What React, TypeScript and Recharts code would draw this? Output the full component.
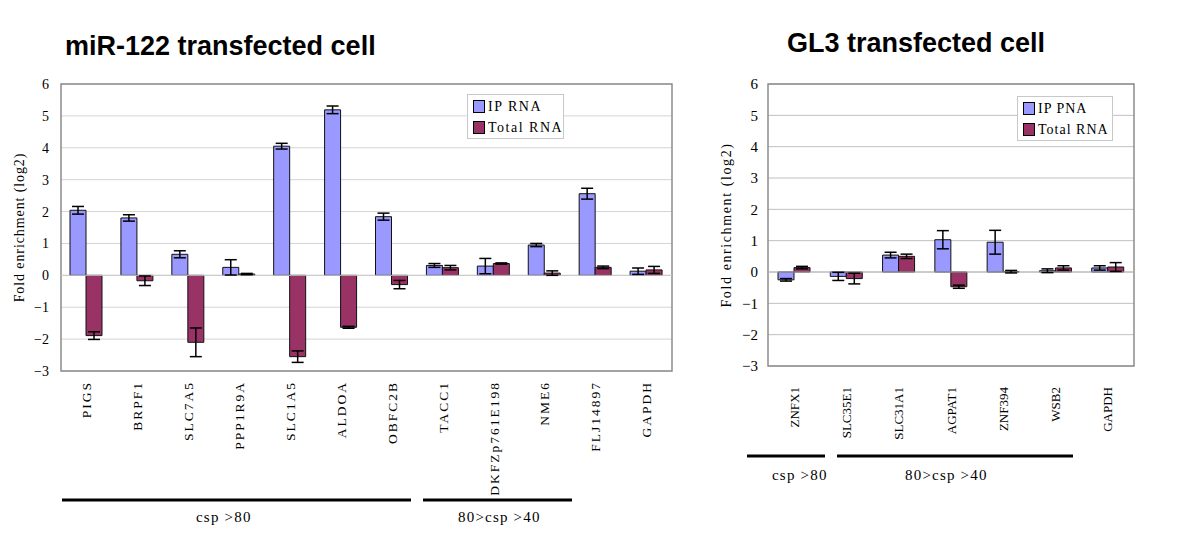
import { BarChart, Bar, XAxis, YAxis, CartesianGrid, ErrorBar, Legend, ReferenceLine, ReferenceArea } from 'recharts'

// miR-122 transfected cell
const leftGenes = ['PIGS', 'BRPF1', 'SLC7A5', 'PPP1R9A', 'SLC1A5', 'ALDOA', 'OBFC2B', 'TACC1', 'DKFZp761E198', 'NME6', 'FLJ14897', 'GAPDH']
const leftIp = [2.04, 1.8, 0.66, 0.25, 4.05, 5.19, 1.84, 0.31, 0.29, 0.95, 2.56, 0.13]
const leftIpErr = [0.12, 0.1, 0.11, 0.24, 0.09, 0.12, 0.11, 0.06, 0.24, 0.05, 0.17, 0.1]
const leftTotal = [-1.89, -0.17, -2.1, 0.04, -2.55, -1.63, -0.29, 0.24, 0.37, 0.07, 0.25, 0.17]
const leftTotalErr = [0.12, 0.15, 0.45, 0.02, 0.18, 0.03, 0.13, 0.07, 0.02, 0.07, 0.04, 0.11]

// GL3 transfected cell
const rightGenes = ['ZNFX1', 'SLC35E1', 'SLC31A1', 'AGPAT1', 'ZNF394', 'WSB2', 'GAPDH']
const rightIp = [-0.25, -0.14, 0.54, 1.03, 0.95, 0.04, 0.13]
const rightIpErr = [0.04, 0.13, 0.09, 0.29, 0.38, 0.06, 0.07]
const rightTotal = [0.14, -0.21, 0.5, -0.47, 0.01, 0.13, 0.16]
const rightTotalErr = [0.04, 0.17, 0.07, 0.05, 0.04, 0.07, 0.14]

const yTicks = [-3, -2, -1, 0, 1, 2, 3, 4, 5, 6]

const leftData = leftGenes.map((g, i) => ({ gene: g, ip: leftIp[i], ipErr: leftIpErr[i], total: leftTotal[i], totalErr: leftTotalErr[i] }))
const rightData = rightGenes.map((g, i) => ({ gene: g, ip: rightIp[i], ipErr: rightIpErr[i], total: rightTotal[i], totalErr: rightTotalErr[i] }))

const IP_COLOR = '#9999FF'
const TOTAL_COLOR = '#993366'
const SERIF = '"Liberation Serif", "DejaVu Serif", serif'

const fmt = (v: number) => (v < 0 ? `\u2212${-v}` : `${v}`)

const LeftTick = ({ x, y, payload }: any) => (
  <text
    x={x}
    y={y + 2}
    dy="0.35em"
    transform={`rotate(-90, ${x}, ${y + 2})`}
    textAnchor="end"
    fontFamily={SERIF}
    fontSize={13.5}
    letterSpacing={2}
    fill="#000"
  >
    {payload.value}
  </text>
)

const RightTick = ({ x, y, payload }: any) => (
  <text
    x={x}
    y={y + 13}
    dy="0.35em"
    transform={`rotate(-90, ${x}, ${y + 13})`}
    textAnchor="end"
    fontFamily={SERIF}
    fontSize={13}
    fill="#000"
  >
    {payload.value}
  </text>
)

const makeLegend = (labels: string[], spacing: number) => () => (
  <div style={{ border: '1px solid #c8c8c8', background: '#fff', padding: '1px 5px', fontFamily: SERIF, fontSize: 14, letterSpacing: spacing, whiteSpace: 'nowrap', boxSizing: 'border-box', height: 45 }}>
    {labels.map((l, i) => (
      <div key={l} style={{ display: 'flex', alignItems: 'center', height: 21 }}>
        <span style={{ width: 10, height: 11, background: i === 0 ? IP_COLOR : TOTAL_COLOR, border: '1px solid #000', marginRight: 3, display: 'inline-block', flex: 'none' }} />
        <span>{l}</span>
      </div>
    ))}
  </div>
)

const Groups = ({ lines }: { lines: { x1: number; x2: number; y: number }[] }) => (
  <svg width={1200} height={548} style={{ position: 'absolute', left: 0, top: 0, pointerEvents: 'none' }}>
    {lines.map((l, i) => (
      <line key={i} x1={l.x1} x2={l.x2} y1={l.y} y2={l.y} stroke="#000" strokeWidth={3} />
    ))}
  </svg>
)

const groupText = (text: string, left: number, top: number) => (
  <div style={{ position: 'absolute', left, top, fontFamily: SERIF, fontSize: 15, letterSpacing: 1.2, whiteSpace: 'pre' }}>{text}</div>
)

export default function App() {
  return (
    <div style={{ position: 'absolute', left: 0, top: 0, width: 1200, height: 548, background: '#fff', overflow: 'hidden' }}>
      <div style={{ position: 'absolute', left: 65, top: 31, fontFamily: '"Liberation Sans", Arial, sans-serif', fontWeight: 'bold', fontSize: 27 }}>
        miR-122 transfected cell
      </div>
      <div style={{ position: 'absolute', left: 787, top: 28, fontFamily: '"Liberation Sans", Arial, sans-serif', fontWeight: 'bold', fontSize: 27 }}>
        GL3 transfected cell
      </div>

      <div style={{ position: 'absolute', left: 0, top: 0 }}>
        <BarChart width={700} height={548} data={leftData} margin={{ top: 84, right: 28, left: 16, bottom: 0 }} barGap={0} barSize={16}>
          <CartesianGrid vertical={false} stroke="#d4d4d4" />
          <ReferenceArea y1={-3} y2={6} fill="none" stroke="#8c8c8c" strokeWidth={1.5} />
          <ReferenceLine y={0} stroke="#c8c8c8" />
          <XAxis dataKey="gene" interval={0} height={177} axisLine={false} tickLine={false} tick={<LeftTick />} />
          <YAxis
            domain={[-3, 6]}
            ticks={yTicks}
            width={45}
            axisLine={false}
            tickLine={false}
            tickMargin={6}
            tickFormatter={fmt}
            tick={{ fontFamily: SERIF, fontSize: 14, fill: '#000' }}
            label={{ value: 'Fold enrichment (log2)', angle: -90, position: 'insideLeft', offset: 3, style: { fontFamily: SERIF, fontSize: 14, fill: '#000', letterSpacing: 0.9, textAnchor: 'middle' } }}
          />
          <Legend
            layout="vertical"
            verticalAlign="middle"
            align="center"
            content={makeLegend(['IP RNA', 'Total RNA'], 1.5)}
            wrapperStyle={{ left: 467, top: 94, width: 97 }}
          />
          <Bar dataKey="ip" name="IP RNA" fill={IP_COLOR} stroke="#111" strokeWidth={1} isAnimationActive={false}>
            <ErrorBar dataKey="ipErr" width={6} stroke="#000" strokeWidth={1.5} />
          </Bar>
          <Bar dataKey="total" name="Total RNA" fill={TOTAL_COLOR} stroke="#111" strokeWidth={1} isAnimationActive={false}>
            <ErrorBar dataKey="totalErr" width={6} stroke="#000" strokeWidth={1.5} />
          </Bar>
        </BarChart>
      </div>

      <div style={{ position: 'absolute', left: 700, top: 0 }}>
        <BarChart width={500} height={548} data={rightData} margin={{ top: 84, right: 66, left: 23, bottom: 0 }} barGap={0} barSize={16}>
          <CartesianGrid vertical={false} stroke="#c0c0c0" />
          <ReferenceArea y1={-3} y2={6} fill="none" stroke="#8c8c8c" strokeWidth={1.5} />
          <ReferenceLine y={0} stroke="#b8b8b8" />
          <XAxis dataKey="gene" interval={0} height={182} axisLine={false} tickLine={false} tick={<RightTick />} />
          <YAxis
            domain={[-3, 6]}
            ticks={yTicks}
            width={45}
            axisLine={false}
            tickLine={false}
            tickMargin={4}
            tickFormatter={fmt}
            tick={{ fontFamily: SERIF, fontSize: 15, fill: '#000' }}
            label={{ value: 'Fold enrichment (log2)', angle: -90, position: 'insideLeft', offset: 3, style: { fontFamily: SERIF, fontSize: 14, fill: '#000', letterSpacing: 1.6, textAnchor: 'middle' } }}
          />
          <Legend
            layout="vertical"
            verticalAlign="middle"
            align="center"
            content={makeLegend(['IP PNA', 'Total RNA'], 1)}
            wrapperStyle={{ left: 317, top: 96, width: 96 }}
          />
          <Bar dataKey="ip" name="IP PNA" fill={IP_COLOR} stroke="#111" strokeWidth={1} isAnimationActive={false}>
            <ErrorBar dataKey="ipErr" width={6} stroke="#000" strokeWidth={1.5} />
          </Bar>
          <Bar dataKey="total" name="Total RNA" fill={TOTAL_COLOR} stroke="#111" strokeWidth={1} isAnimationActive={false}>
            <ErrorBar dataKey="totalErr" width={6} stroke="#000" strokeWidth={1.5} />
          </Bar>
        </BarChart>
      </div>

      <Groups
        lines={[
          { x1: 62, x2: 411, y: 500 },
          { x1: 423, x2: 572, y: 500 },
          { x1: 747, x2: 825, y: 456 },
          { x1: 837, x2: 1073, y: 456 },
        ]}
      />
      {groupText('csp >80', 196, 509)}
      {groupText('80>csp >40', 458, 509)}
      {groupText('csp >80', 772, 467)}
      {groupText('80>csp >40', 905, 467)}
    </div>
  )
}
